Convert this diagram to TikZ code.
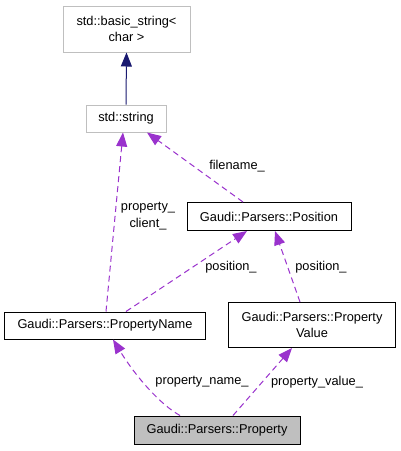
\documentclass[tikz,border=0pt]{standalone}
\usepackage{fontspec}
\setmainfont{Liberation Sans}
\usetikzlibrary{arrows.meta}
\definecolor{edgepurple}{HTML}{9A32CD}
\definecolor{edgenavy}{HTML}{191970}
\definecolor{boxgray}{HTML}{BFBFBF}
\begin{document}
\begin{tikzpicture}[x=1pt,y=-1pt,
  every node/.style={font=\fontsize{12.8}{16.5}\selectfont},
  cls/.style={draw=black, line width=1pt, inner sep=0pt, align=center, fill=white},
  extcls/.style={draw=boxgray, line width=1pt, inner sep=0pt, align=center, fill=white},
  usage/.style={draw=edgepurple, line width=1pt, dash pattern=on 6pt off 4pt,
     -{Triangle[length=14pt,width=11pt,fill=edgepurple]}},
  inherit/.style={draw=edgenavy, line width=1pt,
     -{Triangle[length=14pt,width=11pt,fill=edgenavy]}},
  lbl/.style={inner sep=0pt, align=center}
]
\useasboundingbox (0,0) rectangle (400,451);
\fill[white] (0,0) rectangle (400,451);

\node[extcls, minimum width=127pt, minimum height=46pt] (bs) at (126.5,29) {std::basic\_string<\\char >};
\node[extcls, minimum width=80pt, minimum height=27pt] (str) at (126,118.5) {std::string};
\node[cls, minimum width=164pt, minimum height=28pt] (pos) at (269,216.5) {Gaudi::Parsers::Position};
\node[cls, minimum width=201pt, minimum height=27pt] (pn) at (105,325.5) {Gaudi::Parsers::PropertyName};
\node[cls, minimum width=167pt, minimum height=45pt] (pv) at (312,325) {Gaudi::Parsers::Property\\Value};
\node[cls, fill=boxgray, minimum width=166pt, minimum height=28pt] (prop) at (217,430) {Gaudi::Parsers::Property};

\draw[inherit] (str.north) -- (bs.south);
\draw[usage] ([xshift=1pt]pn.north) -- ([xshift=-3pt]str.south);
\draw[usage] ([xshift=-26pt]pos.north) -- ([xshift=21pt]str.south);
\draw[usage] ([xshift=21pt]pn.north) -- ([xshift=-22pt]pos.south);
\draw[usage] ([xshift=-12pt]pv.north) -- ([xshift=6pt]pos.south);
\draw[usage] ([xshift=-37pt]prop.north) .. controls ([xshift=-57pt,yshift=11pt]prop.north) and ([xshift=30pt,yshift=-36pt]pn.south) .. ([xshift=8pt]pn.south);
\draw[usage] ([xshift=16pt]prop.north) -- ([xshift=-20pt]pv.south);

\node[lbl] (l1) at (148,216) {property\_\\client\_};
\node[lbl] (l2) at (237,166) {filename\_};
\node[lbl] (l3) at (231,267) {position\_};
\node[lbl] (l4) at (321,267) {position\_};
\node[lbl] (l5) at (202,382) {property\_name\_};
\node[lbl] (l6) at (317,382) {property\_value\_};
\end{tikzpicture}
\end{document}
